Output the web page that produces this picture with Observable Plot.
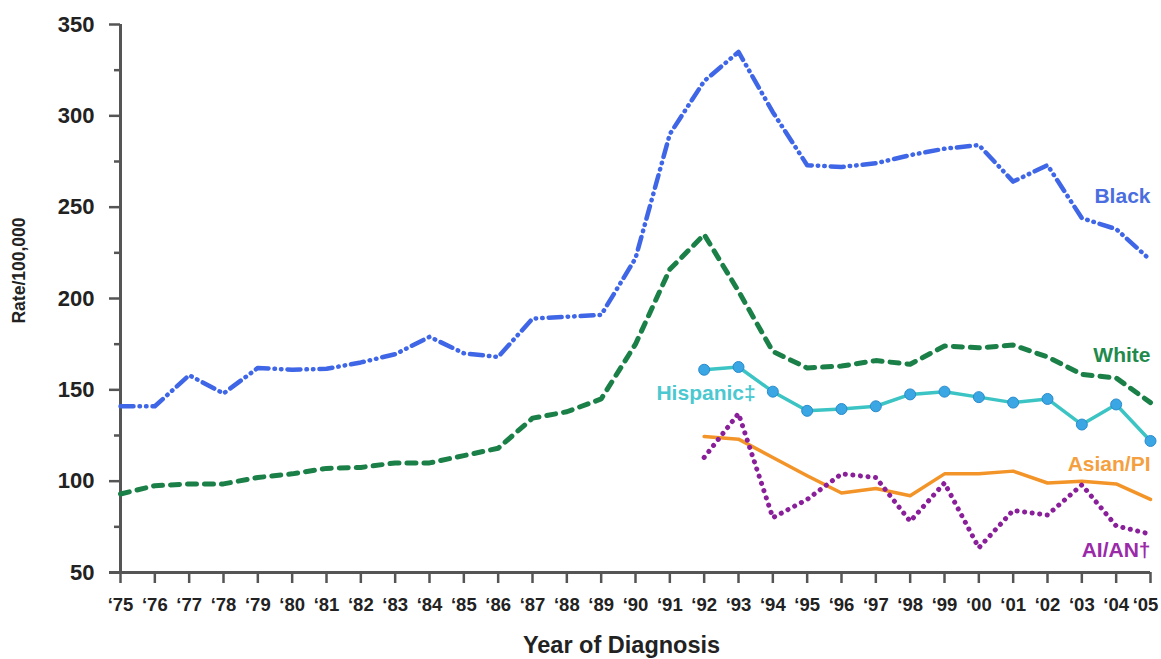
<!DOCTYPE html>
<html>
<head>
<meta charset="utf-8">
<script src="https://cdn.jsdelivr.net/npm/d3@7"></script>
<script src="https://cdn.jsdelivr.net/npm/@observablehq/plot@0.6"></script>
<style>
  html, body { margin: 0; padding: 0; background: #fff; }
  #chart { width: 1161px; height: 659px; }
</style>
</head>
<body>
<div id="chart"></div>
<script>
// ---- data ----
const years = d3.range(1975, 2006);
const yearsLate = d3.range(1992, 2006);
const blackRates = [141, 141, 158, 148, 162, 161, 161.5, 165, 169.5, 179, 170, 168, 189, 190, 191, 222, 290, 319, 335, 302, 273, 272, 274, 278.5, 282, 284, 264, 273, 244, 238, 221];
const whiteRates = [93, 97.5, 98.5, 98.5, 102, 104, 107, 107.5, 110, 110, 114, 118, 134.5, 138, 145, 175, 216, 235, 204, 171, 162, 163, 166, 164, 174, 173, 174.5, 168, 158.5, 156.5, 143];
const hispanicRates = [161, 162.5, 149, 138.5, 139.5, 141, 147.5, 149, 146, 143, 145, 131, 142, 122];
const asianRates = [124.5, 123, 113, 103, 93.5, 96, 92, 104, 104, 105.5, 99, 100, 98.5, 90];
const aianRates = [113, 137, 80, 90, 104, 102, 78, 99, 63.5, 84, 81.5, 98, 75.5, 71];
const yTicks = [50, 100, 150, 200, 250, 300, 350];
const yMinorTicks = [75, 125, 175, 225, 275, 325];
const seriesLabels = ["Black", "White", "Hispanic‡", "Asian/PI", "AI/AN†"];
const xTitle = "Year of Diagnosis";
const yTitle = "Rate/100,000";

// ---- table ----
const black = years.map((y, i) => ({year: y, rate: blackRates[i]}));
const white = years.map((y, i) => ({year: y, rate: whiteRates[i]}));
const hispanic = yearsLate.map((y, i) => ({year: y, rate: hispanicRates[i]}));
const asian = yearsLate.map((y, i) => ({year: y, rate: asianRates[i]}));
const aian = yearsLate.map((y, i) => ({year: y, rate: aianRates[i]}));

const labels = [
  {year: 2005, rate: 256, text: seriesLabels[0], color: "#4a6ee0"},
  {year: 2005, rate: 169, text: seriesLabels[1], color: "#1f8a4c"},
  {year: 1993.5, rate: 148, text: seriesLabels[2], color: "#4cc8d0"},
  {year: 2005, rate: 109.5, text: seriesLabels[3], color: "#f5a040"},
  {year: 2005, rate: 62, text: seriesLabels[4], color: "#9a2aa8"}
];

const fmt = y => "\u2018" + String(y).slice(2);
const xTickFont = {fontSize: 18.5, fontWeight: "bold", fill: "#222", label: null, tickSize: 0, tickPadding: 25, tickFormat: fmt};

const plot = Plot.plot({
  width: 1161,
  height: 659,
  marginLeft: 120,
  marginRight: 11,
  marginTop: 24,
  marginBottom: 87,
  style: {fontFamily: "'Liberation Sans', Arial, sans-serif", background: "#fff", overflow: "visible"},
  x: {domain: [1975, 2005]},
  y: {domain: [50, 350]},
  marks: [
    // axes
    Plot.axisY(yMinorTicks, {tickSize: 6, stroke: "#555", strokeWidth: 2.5, text: null, label: null}),
    Plot.axisY(yTicks, {tickSize: 11, stroke: "#555", strokeWidth: 2.5, tickPadding: 15, fontSize: 22, fontWeight: "bold", fill: "#222", label: null}),
    Plot.axisX(years, {tickSize: 11, stroke: "#555", strokeWidth: 2.5, text: null, label: null}),
    Plot.axisX(years.slice(0, -1), xTickFont),
    Plot.axisX(years.slice(-1), {...xTickFont, dx: -5}),
    Plot.ruleY([50], {stroke: "#555", strokeWidth: 3, x1: 1975, x2: 2005, insetLeft: -11}),
    Plot.ruleX([1975], {stroke: "#555", strokeWidth: 3, y1: 50, y2: 350}),
    // lines
    Plot.line(black, {x: "year", y: "rate", stroke: "#3f66e6", strokeWidth: 4.5, strokeDasharray: "13,6,0.5,6,0.5,6", strokeLinecap: "round", strokeLinejoin: "round"}),
    Plot.line(white, {x: "year", y: "rate", stroke: "#1a8047", strokeWidth: 5, strokeDasharray: "9,8", strokeLinejoin: "round"}),
    Plot.line(hispanic, {x: "year", y: "rate", stroke: "#3cc4c4", strokeWidth: 3.5}),
    Plot.dot(hispanic, {x: "year", y: "rate", r: 5.5, fill: "#3aa6e4", stroke: "#2b8ccc", strokeWidth: 1}),
    Plot.line(asian, {x: "year", y: "rate", stroke: "#f39428", strokeWidth: 3.5}),
    Plot.line(aian, {x: "year", y: "rate", stroke: "#8a1f9a", strokeWidth: 5, strokeDasharray: "0.1,7.5", strokeLinecap: "round"}),
    // labels
    Plot.text(labels, {x: "year", y: "rate", text: "text", fill: "color", textAnchor: "end", fontSize: 21, fontWeight: "bold"}),
    // axis titles
    Plot.text([xTitle], {frameAnchor: "bottom", dx: -14, dy: 80, fontSize: 23.5, fontWeight: "bold", fill: "#222"}),
    Plot.text([yTitle], {frameAnchor: "left", textAnchor: "middle", dx: -101, dy: -28, rotate: -90, fontSize: 17.5, fontWeight: "bold", fill: "#222"})
  ]
});
document.getElementById("chart").appendChild(plot);
</script>
</body>
</html>
